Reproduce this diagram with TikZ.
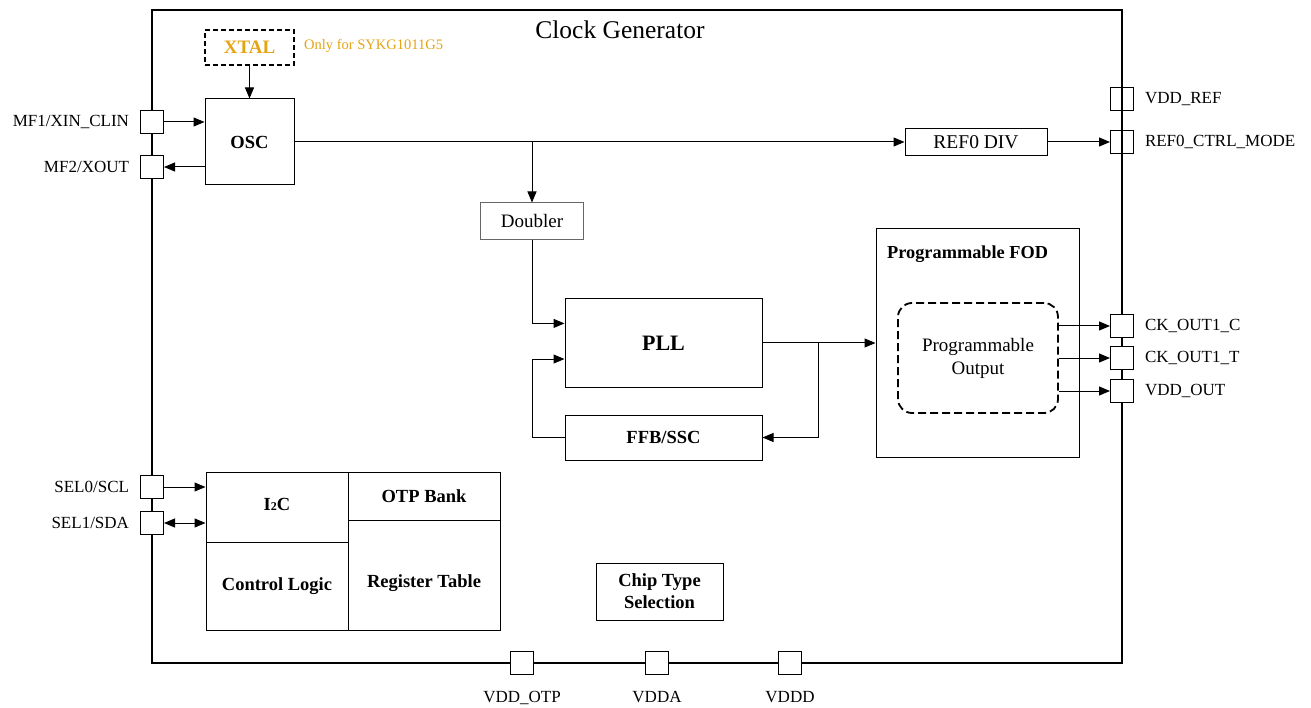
\documentclass[tikz,border=0pt]{standalone}
\usepackage{fontspec}
\setmainfont{Liberation Serif}
\usetikzlibrary{arrows.meta,calc}
\definecolor{xtalgold}{RGB}{228,164,20}
\tikzset{
  blk/.style={draw, line width=1pt, inner sep=0pt, align=center},
  pad/.style={draw, fill=white, line width=1pt, minimum size=23pt, inner sep=0pt},
  openpad/.style={pad, fill=none},
  padtext/.style={font=\fontsize{17}{19}\selectfont, inner sep=0pt, outer sep=11pt},
  padtextlow/.style={padtext, outer sep=16pt},
  sig/.style={line width=1pt, -{Triangle[length=11pt,width=9pt]}},
  boldtext/.style={font=\bfseries\fontsize{18.5}{22}\selectfont}
}

\begin{document}
\begin{tikzpicture}[x=1pt,y=-1pt]
\newcommand{\lside}{152}
\newcommand{\rside}{1122}
\newcommand{\bside}{663}
\useasboundingbox (0,0) rectangle (1311,708);

\node[draw, line width=1.6pt, minimum width=970pt, minimum height=653pt] (chip) at (637,336.5) {};
\node[font=\fontsize{25.5}{28}\selectfont] (title) at (620,30) {Clock Generator};

\node[blk, line width=1.8pt, dash pattern=on 5pt off 3pt, minimum width=89pt, minimum height=35pt,
  text=xtalgold, font=\bfseries\fontsize{19}{21}\selectfont] (xtal) at (249.5,47.5) {XTAL};
\node[anchor=west, text=xtalgold, font=\fontsize{14.5}{16}\selectfont, inner sep=0pt] (xtalnote) at (304,46) {Only for SYKG1011G5};
\node[blk, boldtext, minimum width=89pt, minimum height=86pt] (osc) at (249.5,142) {OSC};
\node[blk, minimum width=142pt, minimum height=27pt, font=\fontsize{19.5}{21}\selectfont] (refdiv) at (976,142) {REF0 DIV};
\node[blk, draw=black!60, minimum width=103pt, minimum height=37pt, font=\fontsize{19}{21}\selectfont] (doubler) at (532,221.5) {Doubler};
\node[blk, minimum width=197pt, minimum height=88pt, font=\bfseries\fontsize{22}{24}\selectfont] (pll) at (663.5,343) {PLL};
\node[blk, boldtext, minimum width=197pt, minimum height=45pt] (ffb) at (663.5,437.5) {FFB/SSC};
\node[blk, minimum width=203pt, minimum height=228pt] (fod) at (977.5,343) {};
\node[anchor=west, inner sep=0pt, font=\bfseries\fontsize{18.3}{20}\selectfont] (fodtitle) at (887,254) {Programmable FOD};
\node[blk, line width=1.8pt, dash pattern=on 8pt off 4pt, rounded corners=14pt, minimum width=160pt, minimum height=110pt,
  font=\fontsize{19}{23}\selectfont] (progout) at (978,358) {Programmable\\Output};

\node[blk, minimum width=142pt, minimum height=70pt, label={[boldtext, yshift=3pt]center:I{\fontsize{12}{12}\selectfont 2}C}] (i2c) at (277,507) {};
\node[blk, boldtext, minimum width=152pt, minimum height=48pt] (otp) at (424,496) {OTP Bank};
\node[blk, boldtext, minimum width=142pt, minimum height=88pt] (ctrl) at (277,586) {Control Logic};
\node[blk, minimum width=152pt, minimum height=110pt, label={[boldtext, yshift=-8pt]center:Register Table}] (regtab) at (424,575) {};
\node[blk, boldtext, minimum width=127pt, minimum height=57pt] (chipsel) at (659.5,591.5) {Chip Type\\Selection};

\node[pad, label={[padtext]left:MF1/XIN\_CLIN}] (mfone) at (\lside,122) {};
\node[pad, label={[padtext]left:MF2/XOUT}] (mftwo) at (\lside,167) {};
\node[pad, label={[padtext]left:SEL0/SCL}] (selzero) at (\lside,487) {};
\node[pad, label={[padtext]left:SEL1/SDA}] (selone) at (\lside,523) {};
\node[openpad, label={[padtext]right:VDD\_REF}] (vddref) at (\rside,99) {};
\node[openpad, label={[padtext]right:REF0\_CTRL\_MODE}] (refctrl) at (\rside,142) {};
\node[pad, label={[padtext]right:CK\_OUT1\_C}] (ckc) at (\rside,326) {};
\node[pad, label={[padtext]right:CK\_OUT1\_T}] (ckt) at (\rside,358) {};
\node[pad, label={[padtext]right:VDD\_OUT}] (vddout) at (\rside,391) {};
\node[pad, label={[padtextlow]below:VDD\_OTP}] (vddotp) at (522,\bside) {};
\node[pad, label={[padtextlow]below:VDDA}] (vdda) at (657,\bside) {};
\node[pad, label={[padtextlow]below:VDDD}] (vddd) at (790,\bside) {};

\draw[sig] (xtal) -- (osc);
\draw[sig] (mfone) -- (mfone -| osc.west);
\draw[sig] (mftwo -| osc.west) -- (mftwo);
\draw[sig] (osc) -- (refdiv);
\draw[sig] (refdiv) -- (refctrl);
\coordinate (split) at (532,142);
\draw[sig] (split) -- (doubler);
\draw[sig] (doubler.south) |- ($(pll.north west)!0.28!(pll.south west)$);
\draw[sig] (ffb.west) -- ++(-32,0) |- ($(pll.north west)!0.68!(pll.south west)$);
\draw[sig] (pll) -- (fod);
\coordinate (fb) at (818,343);
\draw[sig] (fb) |- (ffb.east);
\draw[sig] (progout.east |- ckc) -- (ckc);
\draw[sig] (progout.east |- ckt) -- (ckt);
\draw[sig] (progout.east |- vddout) -- (vddout);
\draw[sig] (selzero) -- (selzero -| i2c.west);
\draw[sig, {Triangle[length=11pt,width=9pt]}-{Triangle[length=11pt,width=9pt]}] (selone) -- (selone -| i2c.west);
\end{tikzpicture}
\end{document}
